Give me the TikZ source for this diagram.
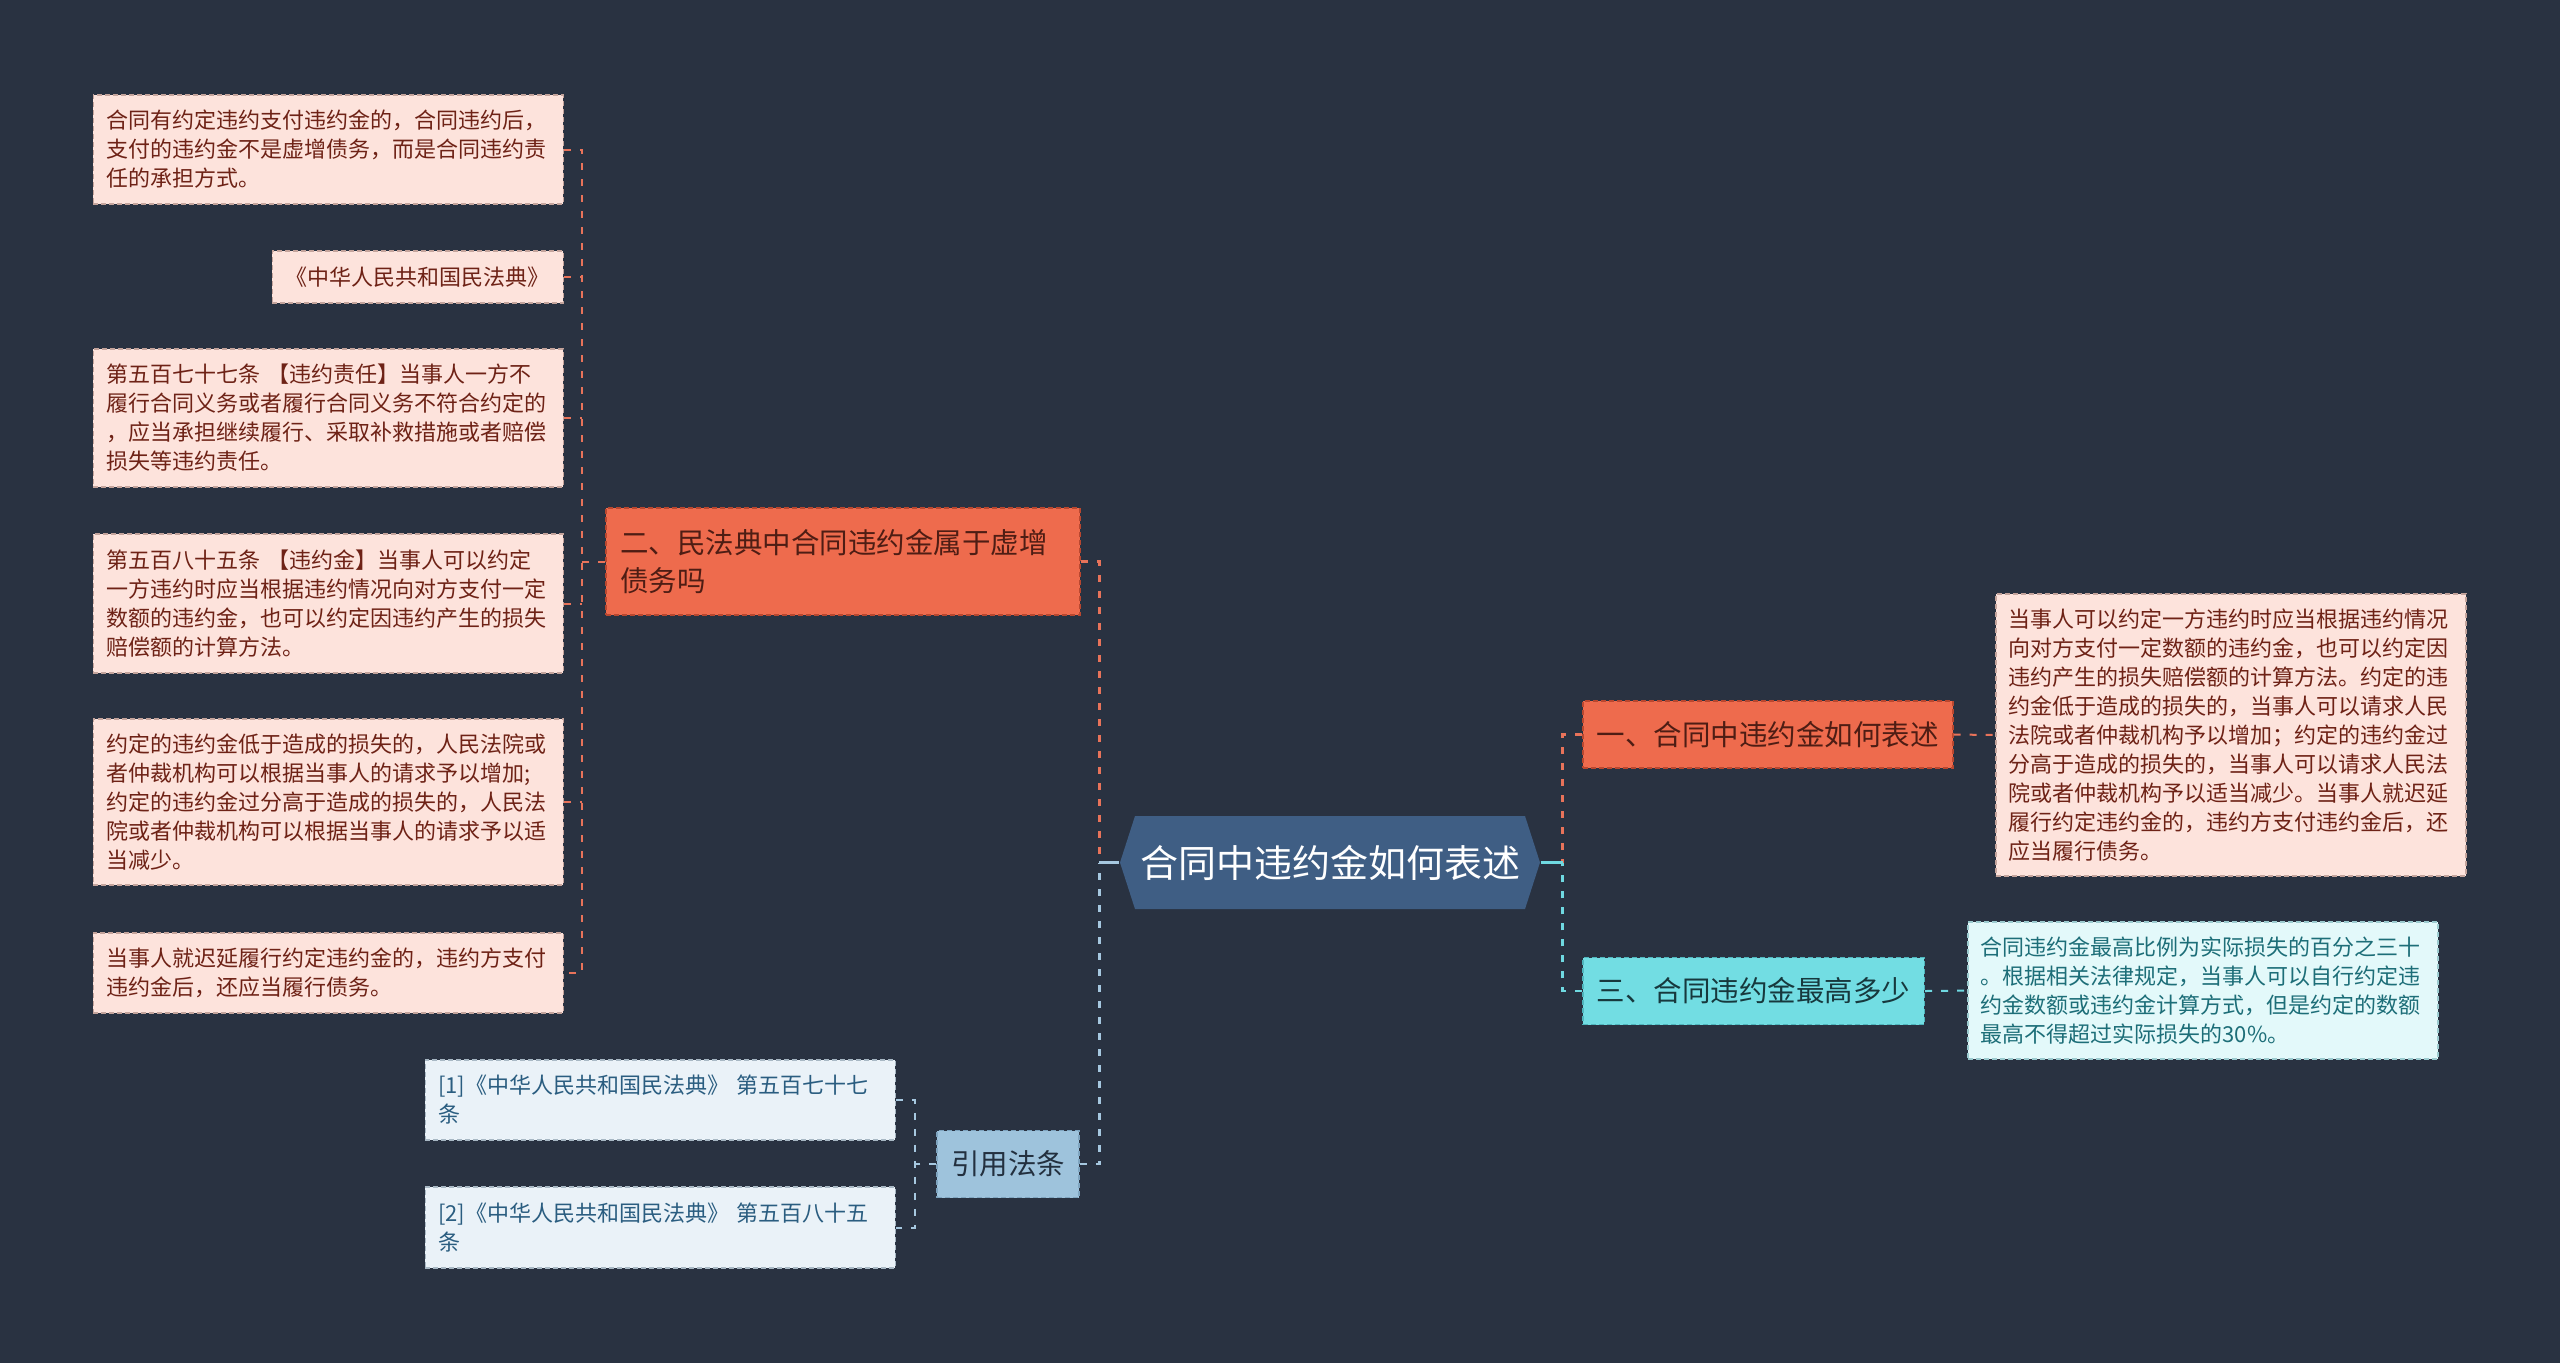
\documentclass[tikz,border=0pt]{standalone}
\usepackage{fontspec}
\usetikzlibrary{calc}
\newfontfamily\cjk{Noto Sans CJK SC}
\definecolor{mmBg}{HTML}{293241}
\definecolor{mmRoot}{HTML}{3F5E84}
\definecolor{mmRed}{HTML}{EE6B4D}
\definecolor{mmRedEdge}{HTML}{B9472F}
\definecolor{mmRedInk}{HTML}{4E1D14}
\definecolor{mmRedLeaf}{HTML}{FDE3DC}
\definecolor{mmRedLeafEdge}{HTML}{C4A49C}
\definecolor{mmRedLeafInk}{HTML}{6E2216}
\definecolor{mmRedLine}{HTML}{E8735A}
\definecolor{mmCyan}{HTML}{72DDE3}
\definecolor{mmCyanEdge}{HTML}{4FB5BC}
\definecolor{mmCyanInk}{HTML}{17383D}
\definecolor{mmCyanLeaf}{HTML}{E3F9FA}
\definecolor{mmCyanLeafEdge}{HTML}{9CCBCF}
\definecolor{mmCyanLeafInk}{HTML}{1D6E78}
\definecolor{mmCyanLine}{HTML}{6FD9E1}
\definecolor{mmBlue}{HTML}{9EC3DC}
\definecolor{mmBlueEdge}{HTML}{7EA4BF}
\definecolor{mmBlueInk}{HTML}{23303F}
\definecolor{mmBlueLeaf}{HTML}{EAF2F8}
\definecolor{mmBlueLeafEdge}{HTML}{A8B8C4}
\definecolor{mmBlueLeafInk}{HTML}{2A5D80}
\definecolor{mmBlueLine}{HTML}{A6C8E0}
\tikzset{
 mind/.style={line join=miter},
 rootshape/.style={fill=mmRoot},
 roottext/.style={font=\cjk\fontsize{11.4}{13}\selectfont,text=white,inner sep=0pt,
   minimum width=126pt,minimum height=27.9pt},
 edgy/.style={line width=.45pt,dash pattern=on 1.5pt off .9pt},
 topic/.style={rectangle,edgy,font=\cjk\fontsize{8.55}{11.4}\selectfont,inner xsep=4.2pt,
   inner ysep=1pt,minimum height=20.1pt},
 redtopic/.style={topic,fill=mmRed,draw=mmRedEdge,text=mmRedInk},
 cyantopic/.style={topic,fill=mmCyan,draw=mmCyanEdge,text=mmCyanInk},
 bluetopic/.style={topic,fill=mmBlue,draw=mmBlueEdge,text=mmBlueInk},
 leafbox/.style={rectangle,edgy,font=\cjk\fontsize{6.6}{8.7}\selectfont,inner xsep=3.9pt,
   inner ysep=1pt},
 leafwide/.style={align=left,text width=133.2pt},
 redleaf/.style={leafbox,fill=mmRedLeaf,draw=mmRedLeafEdge,text=mmRedLeafInk},
 cyanleaf/.style={leafbox,leafwide,fill=mmCyanLeaf,draw=mmCyanLeafEdge,text=mmCyanLeafInk},
 blueleaf/.style={leafbox,leafwide,fill=mmBlueLeaf,draw=mmBlueLeafEdge,text=mmBlueLeafInk},
 link/.style={line width=.8pt,dash pattern=on 2.1pt off 2.7pt},
 twig/.style={line width=.6pt,dash pattern=on 2.1pt off 2.7pt},
 redlink/.style={link,draw=mmRedLine},
 cyanlink/.style={link,draw=mmCyanLine},
 bluelink/.style={link,draw=mmBlueLine},
 redtwig/.style={twig,draw=mmRedLine},
 cyantwig/.style={twig,draw=mmCyanLine},
 bluetwig/.style={twig,draw=mmBlueLine},
 stub/.style={line width=.8pt}
}

\begin{document}
\begin{tikzpicture}[mind,x=.3pt,y=-.3pt]
 \fill[mmBg] (0,0) rectangle (2560,1363);
 % root
 \coordinate (rootc) at (1330,862.5);
 \fill[rootshape] ($(rootc)+(-210,0)$) -- ++(15,-46.5) -- ++(390,0) -- ++(15,46.5)
   -- ++(-15,46.5) -- ++(-390,0) -- cycle;
 \node[roottext] (root) at (rootc) {合同中违约金如何表述};
 % topics
 \node[redtopic,text width=133.8pt,align=left,minimum height=32.1pt] (n2) at (843,561.5)
   {二、民法典中合同违约金属于虚增\\债务吗};
 \node[redtopic,anchor=west] (n1) at (1582,734.5) {一、合同中违约金如何表述};
 \node[cyantopic,anchor=west] (n3) at (1582,991) {三、合同违约金最高多少};
 \node[bluetopic] (cite) at (1008,1164) {引用法条};
 % left leaves
 \node[redleaf,leafwide,anchor=east,minimum height=32.7pt] (l1) at (564,149.5)
   {合同有约定违约支付违约金的，合同违约后，\\
    支付的违约金不是虚增债务，而是合同违约责\\
    任的承担方式。};
 \node[redleaf,anchor=east,minimum width=87.3pt,minimum height=15.6pt] (l2) at (564,277)
   {《中华人民共和国民法典》};
 \node[redleaf,leafwide,anchor=east,minimum height=41.4pt] (l3) at (564,418)
   {第五百七十七条 【违约责任】当事人一方不\\
    履行合同义务或者履行合同义务不符合约定的\\
    ，应当承担继续履行、采取补救措施或者赔偿\\
    损失等违约责任。};
 \node[redleaf,leafwide,anchor=east,minimum height=41.7pt] (l4) at (564,603.5)
   {第五百八十五条 【违约金】当事人可以约定\\
    一方违约时应当根据违约情况向对方支付一定\\
    数额的违约金，也可以约定因违约产生的损失\\
    赔偿额的计算方法。};
 \node[redleaf,leafwide,anchor=east,minimum height=49.8pt] (l5) at (564,802)
   {约定的违约金低于造成的损失的，人民法院或\\
    者仲裁机构可以根据当事人的请求予以增加;\\
    约定的违约金过分高于造成的损失的，人民法\\
    院或者仲裁机构可以根据当事人的请求予以适\\
    当减少。};
 \node[redleaf,leafwide,anchor=east,minimum height=24pt] (l6) at (564,973)
   {当事人就迟延履行约定违约金的，违约方支付\\
    违约金后，还应当履行债务。};
 % right leaves
 \node[redleaf,leafwide,anchor=west,minimum height=84.6pt] (r1) at (1995,735)
   {当事人可以约定一方违约时应当根据违约情况\\
    向对方支付一定数额的违约金，也可以约定因\\
    违约产生的损失赔偿额的计算方法。约定的违\\
    约金低于造成的损失的，当事人可以请求人民\\
    法院或者仲裁机构予以增加；约定的违约金过\\
    分高于造成的损失的，当事人可以请求人民法\\
    院或者仲裁机构予以适当减少。当事人就迟延\\
    履行约定违约金的，违约方支付违约金后，还\\
    应当履行债务。};
 \node[cyanleaf,anchor=west,minimum height=41.1pt] (r3) at (1967,990.5)
   {合同违约金最高比例为实际损失的百分之三十\\
    。根据相关法律规定，当事人可以自行约定违\\
    约金数额或违约金计算方式，但是约定的数额\\
    最高不得超过实际损失的30\%。};
 % citations
 \node[blueleaf,anchor=east,minimum height=24pt] (c1) at (896,1100)
   {[1]《中华人民共和国民法典》 第五百七十七\\条};
 \node[blueleaf,anchor=east,minimum height=24.3pt] (c2) at (896,1227.5)
   {[2]《中华人民共和国民法典》 第五百八十五\\条};
 % connectors
 \coordinate (lhub) at ($(root.west)+(-20,0)$);
 \coordinate (rhub) at ($(root.east)+(22,0)$);
 \draw[redlink] (n2.east) -| (lhub);
 \draw[bluelink] (cite.east) -| (lhub);
 \draw[stub,mmBlueLine] (lhub) -- (root.west);
 \draw[redlink] (n1.west) -| (rhub);
 \draw[cyanlink] (n3.west) -| (rhub);
 \draw[stub,mmCyanLine] (root.east) -- (rhub);
 \draw[redtwig] (n1.east) -- (r1.west);
 \draw[cyantwig] (n3.east) -- (r3.west);
 \coordinate (lbus) at ($(n2.west)+(-23,0)$);
 \draw[redtwig] (l1.east) -| (lbus |- l6.east) -- (l6.east);
 \foreach \k in {2,...,5} \draw[redtwig] (l\k.east) -- (l\k.east -| lbus);
 \draw[redtwig] (n2.west) -- (lbus);
 \coordinate (cbus) at ($(cite.west)+(-21,0)$);
 \draw[bluetwig] (c1.east) -| (cbus |- c2.east) -- (c2.east);
 \draw[bluetwig] (cite.west) -- (cbus);
\end{tikzpicture}
\end{document}
